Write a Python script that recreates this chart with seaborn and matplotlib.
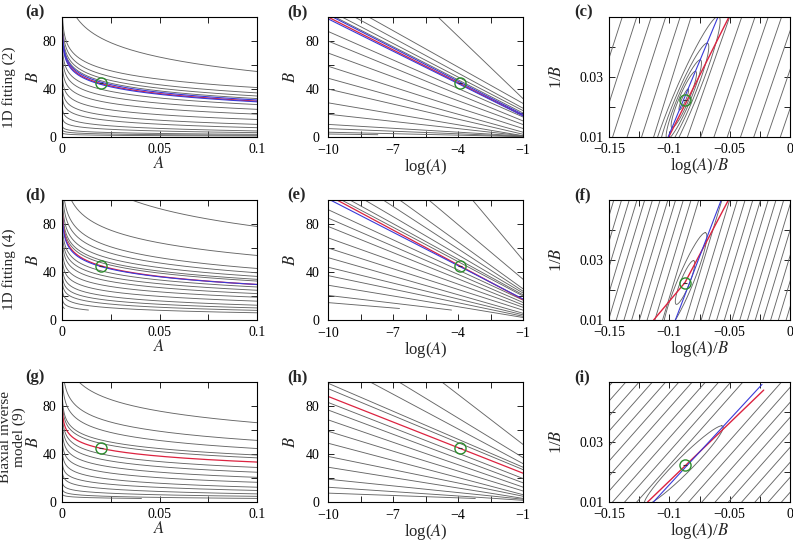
import numpy as np
import pandas as pd
import matplotlib
matplotlib.use("Agg")
import matplotlib.pyplot as plt
import seaborn as sns

# reference point (green circle)
A_TRUE = 0.02
B_TRUE = 45.0

# contour lines of rows 1-3 in the log(A)-B plane:
# B read at log(A) = -10 (left) and at log(A) = -1 (right), end = last log(A) drawn
row1_left = [188, 119, 112, 106, 103, 88, 80, 70, 59, 49, 40, 28.5, 19, 10.5, 7, 4, 2.5]
row1_right = [32, 28, 24, 22, 20, 16.7, 13.4, 10.4, 7.1, 4.0, 2.3, 1.05, 1.0, 0.8, 0.5, 0.3, 0.2]
row1_end = [-1, -1, -1, -1, -1, -1, -1, -1, -1, -1, -1, -1, -1, -1, -1, -1, -7.7]
row1_red = (100, 18)
row1_blue_left = [102, 98.5]
row1_blue_right = [18.8, 17.6]

row2_left = [243, 170.6, 143, 130, 118, 110, 106, 92, 85, 78, 68.5, 60, 52, 44, 37, 29, 20.5, 14.5]
row2_right = [50, 34, 26, 24, 22.5, 21, 20, 16.6, 14.6, 12.5, 10.6, 8.2, 5.6, 4.3, 3.1, 2.1, 1.2, 1.1]
row2_end = [-1, -1, -1, -1, -1, -1, -1, -1, -1, -1, -1, -1, -1, -1, -1, -1, -4.3, -6.7]
row2_red = (104, 17)
row2_blue_left = [101]
row2_blue_right = [17.5]

row3_left = [173, 136, 118.8, 99, 94.5, 83, 76.7, 68.5, 59, 49, 38, 29, 19, 12.3, 7.4]
row3_right = [48, 37, 32, 29, 27, 19.6, 16, 12.4, 9.2, 6.1, 4.8, 3.0, 2.3, 1.4, 1.5]
row3_end = [-1, -1, -1, -1, -1, -1, -1, -1, -1, -1, -1, -1, -1, -1, -3.2]
row3_red = (88, 24)
row3_blue_left = []
row3_blue_right = []

# contour lines in the log(A)/B - 1/B plane: x at 1/B = 0.01 (bottom) and 0.05 (top)
c_bottom = [-0.183, -0.171, -0.159, -0.147, -0.135, -0.123, -0.113,
            -0.085, -0.074, -0.063, -0.052, -0.041, -0.030, -0.019, -0.008]
c_top = [-0.151, -0.139, -0.127, -0.115, -0.103, -0.091, -0.082,
         -0.050, -0.040, -0.029, -0.018, -0.007, 0.004, 0.015, 0.026]
c_tip_x = [-0.0596, -0.0687, -0.0745, -0.0784, -0.0844]
c_tip_y = [0.0502, 0.0413, 0.0357, 0.0319, 0.026]
c_halfw = [0.010, 0.0075, 0.0057, 0.0043, 0.0018]
c_center = (-0.088, 0.0225)
c_red_x, c_red_y = [-0.1005, -0.0506], [0.01, 0.05]
c_blue_x, c_blue_y = [-0.101, -0.0597], [0.01, 0.05]

f_bottom = [-0.176, -0.1696, -0.1632, -0.1568, -0.1504, -0.144, -0.1376, -0.1312,
            -0.1248, -0.1184, -0.112, -0.1056, -0.0864, -0.08, -0.0736, -0.0672,
            -0.0608, -0.0544, -0.048, -0.0416, -0.0352, -0.0288, -0.0224, -0.016,
            -0.0096, -0.0032]
f_top = [-0.146, -0.1396, -0.1332, -0.1268, -0.1204, -0.114, -0.1076, -0.1012,
         -0.0948, -0.0884, -0.082, -0.0756, -0.0564, -0.05, -0.0436, -0.0372,
         -0.0308, -0.0244, -0.018, -0.0116, -0.0052, 0.0012, 0.0076, 0.014,
         0.0204, 0.0268]
f_tip_x = [-0.0703, -0.080]
f_tip_y = [0.0391, 0.0298]
f_halfw = [0.007, 0.004]
f_center = (-0.087, 0.0225)
f_red_x, f_red_y = [-0.113, -0.087, -0.051], [0.01, 0.0225, 0.05]
f_blue_x, f_blue_y = [-0.095, -0.057], [0.01, 0.05]

i_bottom = [-0.235, -0.224, -0.213, -0.202, -0.191, -0.180, -0.169, -0.158,
            -0.147, -0.137, -0.127, -0.095, -0.084, -0.073, -0.062, -0.051,
            -0.040, -0.029, -0.018, -0.007]
i_top = [-0.147, -0.136, -0.125, -0.114, -0.103, -0.092, -0.081, -0.070,
         -0.059, -0.049, -0.039, -0.007, 0.004, 0.015, 0.026, 0.037,
         0.048, 0.059, 0.070, 0.081]
i_tip_x = [-0.0566]
i_tip_y = [0.0354]
i_halfw = [0.009]
i_center = (-0.0881, 0.0222)
i_red_x, i_red_y = [-0.118, -0.0218], [0.01, 0.0473]
i_blue_x, i_blue_y = [-0.1132, -0.0232], [0.01, 0.0492]

row_titles = ["1D fitting (2)", "1D fitting (4)", "Biaxial inverse\nmodel (9)"]
panel_tags = ["(a)", "(b)", "(c)", "(d)", "(e)", "(f)", "(g)", "(h)", "(i)"]

GRAY = "#666666"
RED = "#dc2340"
BLUE = "#3a3ad8"
GREEN = "#2c8c2c"

sns.set_theme(style="ticks")
plt.rcParams["font.family"] = ["Liberation Serif", "DejaVu Serif"]
plt.rcParams["mathtext.fontset"] = "stix"
plt.rcParams["axes.linewidth"] = 0.8

fig = plt.figure(figsize=(7.93, 5.44), dpi=100)
W, H = 793, 544


def add_ax(x0, y0, w, h):
    return fig.add_axes([x0 / W, 1 - (y0 + h) / H, w / W, h / H])


def draw(ax, xs, ys, color, lw=0.65):
    if not xs:
        return
    df = pd.concat([pd.DataFrame({"x": x, "y": y, "k": k})
                    for k, (x, y) in enumerate(zip(xs, ys))])
    sns.lineplot(data=df, x="x", y="y", units="k", estimator=None, sort=False,
                 color=color, lw=lw, ax=ax, legend=False)


def loga_lines(left, right, ends):
    out = []
    for L, R, e in zip(left, right, ends):
        la = np.linspace(-12, e, 400)
        out.append((la, L + (R - L) * (la + 10) / 9))
    return out


def ellipse_pts(center, tx, ty, hw):
    t = np.linspace(0, 2 * np.pi, 200)
    cx, cy = center
    return cx + (tx - cx) * np.cos(t) + hw * np.sin(t), cy + (ty - cy) * np.cos(t)


def style(ax, xt, xl, yt, yl, xlim, ylim, xpad=4, ypad=4):
    ax.set_xlim(*xlim)
    ax.set_ylim(*ylim)
    ax.set_xticks(xt)
    ax.set_xticklabels(xl)
    ax.set_yticks(yt)
    ax.set_yticklabels(yl)
    ax.tick_params(direction="in", top=True, right=True, length=4, width=0.6,
                   labelsize=10, colors="black")
    ax.tick_params(axis="x", pad=xpad)
    ax.tick_params(axis="y", pad=ypad)
    for s in ax.spines.values():
        s.set_color("black")


M = "\u2212"
rows = [
    (row1_left, row1_right, row1_end, row1_red, row1_blue_left, row1_blue_right,
     c_bottom, c_top, c_tip_x, c_tip_y, c_halfw, c_center, (c_red_x, c_red_y), (c_blue_x, c_blue_y)),
    (row2_left, row2_right, row2_end, row2_red, row2_blue_left, row2_blue_right,
     f_bottom, f_top, f_tip_x, f_tip_y, f_halfw, f_center, (f_red_x, f_red_y), (f_blue_x, f_blue_y)),
    (row3_left, row3_right, row3_end, row3_red, row3_blue_left, row3_blue_right,
     i_bottom, i_top, i_tip_x, i_tip_y, i_halfw, i_center, (i_red_x, i_red_y), (i_blue_x, i_blue_y)),
]
row_y = [17, 200, 382]
title_xy = [(9, 87), (9, 269), (13, 437)]

for r, (lft, rgt, ends, red, bl, br, bot, top, tx, ty, hw, cen, redxy, bluexy) in enumerate(rows):
    y0 = row_y[r]
    ax1 = add_ax(62, y0, 195, 120)
    ax2 = add_ax(328, y0, 195, 120)
    ax3 = add_ax(609, y0, 181, 120)

    gray = loga_lines(lft, rgt, ends)
    redl = loga_lines([red[0]], [red[1]], [-1])
    blue = loga_lines(bl, br, [-1] * len(bl))

    # (a) panels: B against A
    draw(ax1, [np.exp(a) for a, b in gray], [b for a, b in gray], GRAY)
    draw(ax1, [np.exp(a) for a, b in redl], [b for a, b in redl], RED, 0.9)
    draw(ax1, [np.exp(a) for a, b in blue], [b for a, b in blue], BLUE, 0.8)
    # (b) panels: B against log(A)
    draw(ax2, [a for a, b in gray], [b for a, b in gray], GRAY)
    draw(ax2, [a for a, b in redl], [b for a, b in redl], RED, 0.9)
    draw(ax2, [a for a, b in blue], [b for a, b in blue], BLUE, 0.8)
    # (c) panels: 1/B against log(A)/B
    draw(ax3, [[b0, t0] for b0, t0 in zip(bot, top)], [[0.01, 0.05]] * len(bot), GRAY)
    ell = [ellipse_pts(cen, x, y, w) for x, y, w in zip(tx, ty, hw)]
    draw(ax3, [e[0] for e in ell], [e[1] for e in ell], GRAY)
    draw(ax3, [redxy[0]], [redxy[1]], RED, 1.0)
    draw(ax3, [bluexy[0]], [bluexy[1]], BLUE, 0.8)

    for ax, (px, py) in zip((ax1, ax2, ax3),
                            [(A_TRUE, B_TRUE), (np.log(A_TRUE), B_TRUE),
                             (np.log(A_TRUE) / B_TRUE, 1 / B_TRUE)]):
        ax.plot([px], [py], marker="o", ms=8, mfc="none", mec=GREEN, mew=1.0, zorder=5)
        ax.plot([px], [py], marker="_", ms=3, color="#333333", mew=0.8, zorder=6)

    style(ax1, [0, 0.025, 0.05, 0.075, 0.1], ["0", "", "0.05", "", "0.1"],
          [0, 20, 40, 60, 80, 100], ["0", "", "40", "", "80", ""], (0, 0.1), (0, 100))
    style(ax2, [-10, -8.5, -7, -5.5, -4, -2.5, -1], [M + "10", "", M + "7", "", M + "4", "", M + "1"],
          [0, 20, 40, 60, 80, 100], ["0", "", "40", "", "80", ""], (-10, -1), (0, 100),
          xpad=5, ypad=6)
    style(ax3, [-0.15, -0.125, -0.1, -0.075, -0.05, -0.025, 0],
          [M + "0.15", "", M + "0.1", "", M + "0.05", "", "0"],
          [0.01, 0.02, 0.03, 0.04, 0.05], ["0.01", "", "0.03", "", ""], (-0.15, 0), (0.01, 0.05))

    ax1.set_xlabel("$A$", fontsize=12, labelpad=0)
    ax2.set_xlabel("log($A$)", fontsize=12, labelpad=0)
    ax3.set_xlabel("log($A$)/$B$", fontsize=12, labelpad=0)
    ax1.set_ylabel("$B$", fontsize=12)
    ax2.set_ylabel("$B$", fontsize=12)
    ax3.set_ylabel("1/$B$", fontsize=12)
    ax1.yaxis.set_label_coords(-0.10, 0.5)
    ax2.yaxis.set_label_coords(-0.15, 0.5)
    ax3.yaxis.set_label_coords(-0.243, 0.5)

    for k, ax in enumerate((ax1, ax2, ax3)):
        off = [-0.19, -0.21, -0.19][k]
        ax.text(off, 1.04, panel_tags[3 * r + k], transform=ax.transAxes,
                fontsize=12, fontweight="bold", ha="left", va="center")

    tx0, ty0 = title_xy[r]
    fig.text(tx0 / W, 1 - ty0 / H, row_titles[r], rotation=90, fontsize=11,
             ha="center", va="center", linespacing=1.05)

fig.savefig("out.png", dpi=100)
